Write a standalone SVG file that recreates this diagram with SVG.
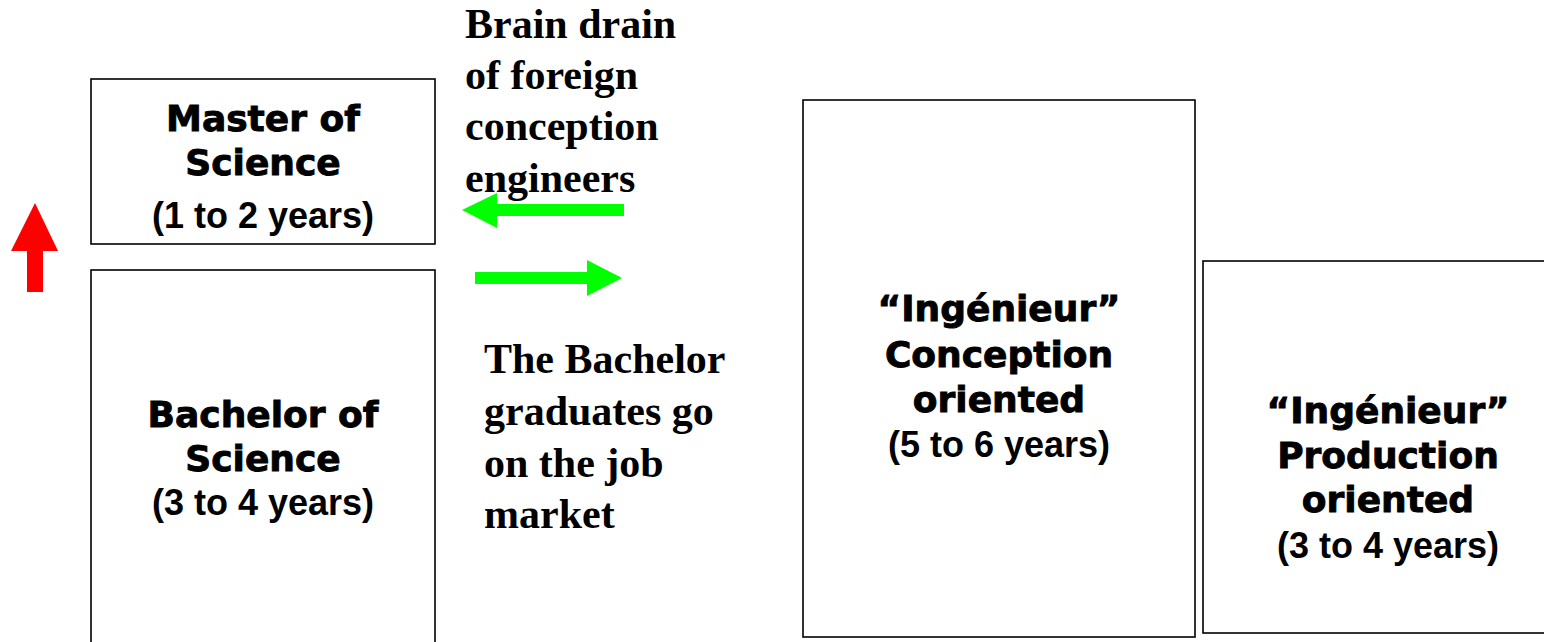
<svg xmlns="http://www.w3.org/2000/svg" width="1544" height="642" viewBox="0 0 1544 642">
  <style>
    .box { fill: #ffffff; stroke: #000000; stroke-width: 1.6; }
    .title { font-family: "DejaVu Sans", "Liberation Sans", sans-serif; font-weight: bold; font-size: 36px; fill: #000; stroke: #000; stroke-width: 0.9; text-anchor: middle; }
    .years { font-family: "Liberation Sans", Arial, sans-serif; font-weight: bold; font-size: 36px; fill: #000; text-anchor: middle; }
    .note { font-family: "Liberation Serif", "Times New Roman", serif; font-weight: bold; font-size: 42px; fill: #000; }
    .green { fill: #00ff00; }
    .red { fill: #ff0000; }
  </style>
  <rect width="1544" height="642" fill="#ffffff"/>

  <g id="master">
    <rect class="box" x="91" y="79" width="344" height="165"/>
    <text class="title" x="263" y="131">Master of</text>
    <text class="title" x="263" y="175">Science</text>
    <text class="years" x="263" y="228">(1 to 2 years)</text>
  </g>

  <g id="bachelor">
    <rect class="box" x="91" y="270" width="344" height="380"/>
    <text class="title" x="263" y="427">Bachelor of</text>
    <text class="title" x="263" y="471">Science</text>
    <text class="years" x="263" y="515">(3 to 4 years)</text>
  </g>

  <g id="ingenieur-conception">
    <rect class="box" x="803" y="100" width="392" height="537"/>
    <text class="title" x="999" y="321">“Ingénieur”</text>
    <text class="title" x="999" y="367">Conception</text>
    <text class="title" x="999" y="412">oriented</text>
    <text class="years" x="999" y="457">(5 to 6 years)</text>
  </g>

  <g id="ingenieur-production">
    <rect class="box" x="1203" y="261" width="345" height="372"/>
    <text class="title" x="1388" y="423">“Ingénieur”</text>
    <text class="title" x="1388" y="468">Production</text>
    <text class="title" x="1388" y="512">oriented</text>
    <text class="years" x="1388" y="558">(3 to 4 years)</text>
  </g>

  <g id="brain-drain-label">
    <text class="note" x="465" y="38">Brain drain</text>
    <text class="note" x="465" y="89">of foreign</text>
    <text class="note" x="465" y="140">conception</text>
    <text class="note" x="465" y="192">engineers</text>
  </g>

  <g id="job-market-label">
    <text class="note" x="484" y="373">The Bachelor</text>
    <text class="note" x="484" y="425">graduates go</text>
    <text class="note" x="484" y="477">on the job</text>
    <text class="note" x="484" y="528">market</text>
  </g>

  <g id="connectors">
    <!-- brain drain: inflow towards the Master box -->
    <polygon class="green" points="624,204 497,204 497,193 462,210 497,228 497,216 624,216"/>
    <!-- bachelors leaving for the job market -->
    <polygon class="green" points="475,272 587,272 587,260 622,278 587,296 587,284 475,284"/>
    <!-- upward progression -->
    <polygon class="red" points="35,203 58,251 43,251 43,292 27,292 27,251 11,251"/>
  </g>
</svg>
